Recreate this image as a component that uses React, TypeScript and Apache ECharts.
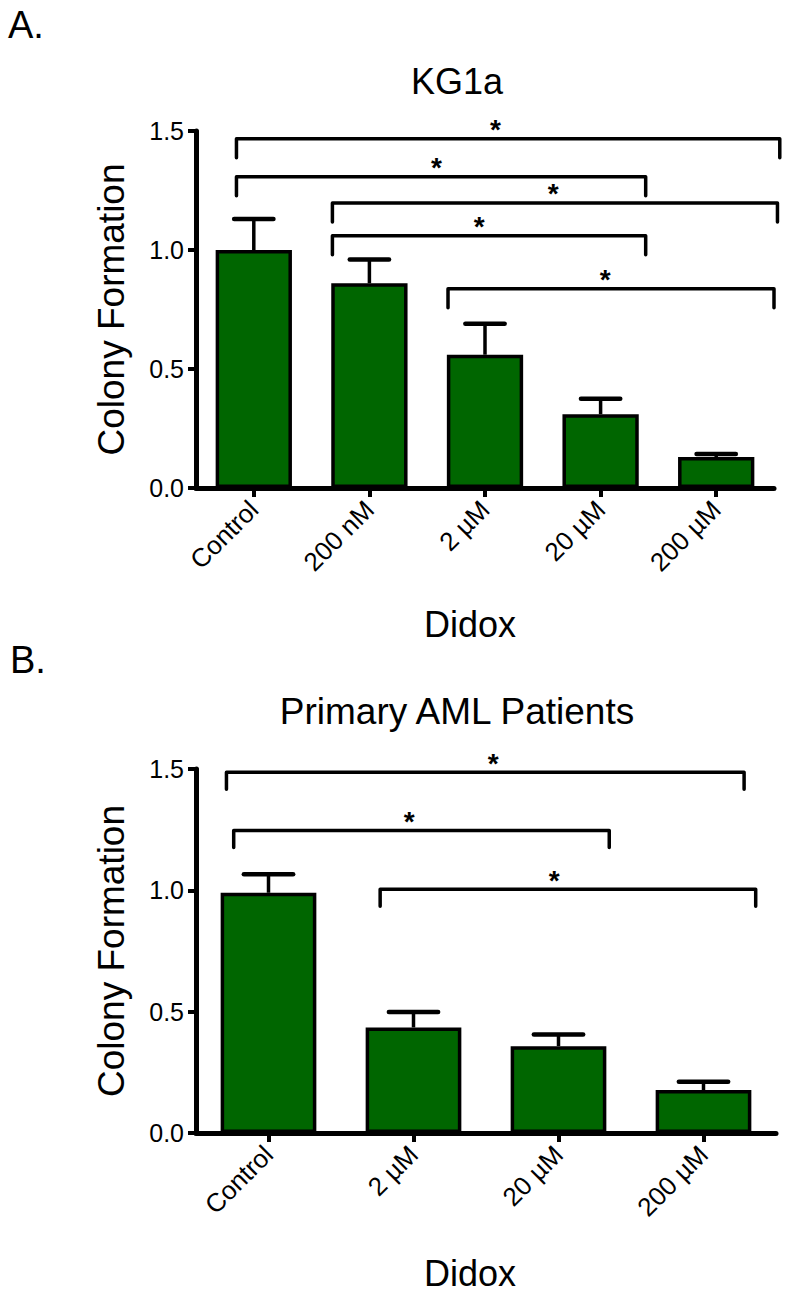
import React, { useEffect, useRef } from 'react';
import * as echarts from 'echarts';

const FONT = '"Liberation Sans", Arial, Helvetica, sans-serif';
const GREEN = '#006600';

const yTicks = [0, 0.5, 1.0, 1.5];

const categoriesA = ['Control', '200 nM', '2 µM', '20 µM', '200 µM'];
const meansA = [1.0, 0.86, 0.56, 0.31, 0.13];
const errTopA = [1.13, 0.96, 0.69, 0.375, 0.143];
// [fromIdx, toIdx, level, leftOffset(band), rightOffset(band), starPos(category units)]
const bracketsA = [
  [0, 4, 1.467, -0.15, 0.55, 2.09],
  [0, 3, 1.308, -0.15, 0.39, 1.58],
  [1, 4, 1.198, -0.32, 0.53, 2.59],
  [1, 3, 1.06, -0.32, 0.39, 1.95],
  [2, 4, 0.837, -0.32, 0.5, 3.04],
];

const categoriesB = ['Control', '2 µM', '20 µM', '200 µM'];
const meansB = [0.99, 0.435, 0.358, 0.177];
const errTopB = [1.066, 0.499, 0.406, 0.211];
const bracketsB = [
  [0, 3, 1.487, -0.29, 0.28, 1.55],
  [0, 2, 1.247, -0.24, 0.35, 0.97],
  [1, 3, 1.004, -0.23, 0.36, 1.97],
];

function errorRender(params: any, api: any) {
  const idx = api.value(0);
  const mean = api.value(1);
  const top = api.value(2);
  const p0 = api.coord([idx, mean]);
  const p1 = api.coord([idx, top]);
  const band = api.size([1, 0])[0];
  const capHalf = band * 0.17;
  return {
    type: 'group',
    children: [
      { type: 'line', shape: { x1: p0[0], y1: p0[1], x2: p1[0], y2: p1[1] }, style: { stroke: '#000', lineWidth: 3.5 } },
      { type: 'line', shape: { x1: p1[0] - capHalf, y1: p1[1], x2: p1[0] + capHalf, y2: p1[1] }, style: { stroke: '#000', lineWidth: 4.5, lineCap: 'round' } },
    ],
  };
}

function bracketRender(drop: number) {
  return (params: any, api: any) => {
    const from = api.value(0);
    const to = api.value(1);
    const lvl = api.value(2);
    const lo = api.value(3);
    const ro = api.value(4);
    const sp = api.value(5);
    const band = api.size([1, 0])[0];
    const pa = api.coord([from, lvl]);
    const pb = api.coord([to, lvl]);
    const origin = api.coord([0, lvl]);
    const x1 = pa[0] + lo * band;
    const x2 = pb[0] + ro * band;
    const sx = origin[0] + sp * band;
    return {
      type: 'group',
      children: [
        {
          type: 'polyline',
          shape: { points: [[x1, pa[1] + drop], [x1, pa[1]], [x2, pa[1]], [x2, pa[1] + drop]] },
          style: { stroke: '#000', lineWidth: 3.5, fill: null, lineJoin: 'round', lineCap: 'round' },
        },
        {
          type: 'text',
          x: sx,
          y: pa[1] - 9,
          style: { text: '*', fontSize: 28, fontWeight: 'bold', fill: '#000', align: 'center', verticalAlign: 'middle', fontFamily: FONT },
        },
      ],
    };
  };
}

function xAxisCfg(gridIndex: number, cats: string[], nameGap: number, shift: number) {
  return {
    type: 'category',
    gridIndex,
    data: cats,
    axisLine: { show: true, lineStyle: { color: '#000', width: 5 } },
    axisTick: { show: true, alignWithLabel: true, length: 9, lineStyle: { color: '#000', width: 4 } },
    axisLabel: { interval: 0, rotate: 45, fontSize: 26, color: '#000', fontFamily: FONT, margin: 17 },
    splitLine: { show: false },
    name: 'Didox',
    nameLocation: 'middle',
    nameGap,
    nameTextStyle: { fontSize: 36, color: '#000', fontFamily: FONT, padding: [0, shift, 0, 0] },
  };
}

function yAxisCfg(gridIndex: number) {
  return {
    type: 'value',
    gridIndex,
    min: yTicks[0],
    max: yTicks[yTicks.length - 1],
    interval: yTicks[1] - yTicks[0],
    axisLine: { show: true, lineStyle: { color: '#000', width: 5 } },
    axisTick: { show: true, length: 8, lineStyle: { color: '#000', width: 4 } },
    axisLabel: { fontSize: 25, color: '#000', fontFamily: FONT, margin: 12, formatter: (v: number) => v.toFixed(1) },
    splitLine: { show: false },
    name: 'Colony Formation',
    nameLocation: 'middle',
    nameGap: 66,
    nameTextStyle: { fontSize: 37, color: '#000', fontFamily: FONT },
  };
}

export default function App() {
  const ref = useRef<HTMLDivElement>(null);
  useEffect(() => {
    if (!ref.current) return;
    const chart = echarts.init(ref.current, null, { renderer: 'svg' });
    const option: any = {
      animation: false,
      backgroundColor: '#fff',
      textStyle: { fontFamily: FONT },
      graphic: [
        { type: 'text', x: 8, y: 25, style: { text: 'A.', fontSize: 38, fill: '#000', fontFamily: FONT, align: 'left', verticalAlign: 'middle' } },
        { type: 'text', x: 10, y: 660, style: { text: 'B.', fontSize: 38, fill: '#000', fontFamily: FONT, align: 'left', verticalAlign: 'middle' } },
        { type: 'text', x: 457, y: 81, style: { text: 'KG1a', fontSize: 36, fill: '#000', fontFamily: FONT, align: 'center', verticalAlign: 'middle' } },
        { type: 'text', x: 457, y: 711, style: { text: 'Primary AML Patients', fontSize: 37, fill: '#000', fontFamily: FONT, align: 'center', verticalAlign: 'middle' } },
      ],
      grid: [
        { left: 196, top: 131, width: 578, height: 357 },
        { left: 196, top: 769, width: 580, height: 364 },
      ],
      xAxis: [xAxisCfg(0, categoriesA, 118, 30), xAxisCfg(1, categoriesB, 122, 32)],
      yAxis: [yAxisCfg(0), yAxisCfg(1)],
      series: [
        {
          type: 'bar', xAxisIndex: 0, yAxisIndex: 0, data: meansA, barWidth: '66%',
          itemStyle: { color: GREEN, borderColor: '#000', borderWidth: 3.5 },
        },
        {
          type: 'custom', xAxisIndex: 0, yAxisIndex: 0, renderItem: errorRender,
          data: meansA.map((m, i) => [i, m, errTopA[i]]), encode: { x: 0, y: [1, 2] }, z: 3,
        },
        {
          type: 'custom', xAxisIndex: 0, yAxisIndex: 0, renderItem: bracketRender(19),
          data: bracketsA, encode: { x: 0, y: 2 }, z: 4, clip: false,
        },
        {
          type: 'bar', xAxisIndex: 1, yAxisIndex: 1, data: meansB, barWidth: '66%',
          itemStyle: { color: GREEN, borderColor: '#000', borderWidth: 3.5 },
        },
        {
          type: 'custom', xAxisIndex: 1, yAxisIndex: 1, renderItem: errorRender,
          data: meansB.map((m, i) => [i, m, errTopB[i]]), encode: { x: 0, y: [1, 2] }, z: 3,
        },
        {
          type: 'custom', xAxisIndex: 1, yAxisIndex: 1, renderItem: bracketRender(17),
          data: bracketsB, encode: { x: 0, y: 2 }, z: 4, clip: false,
        },
      ],
    };
    chart.setOption(option);
    return () => chart.dispose();
  }, []);
  return <div ref={ref} style={{ position: 'absolute', left: 0, top: 0, width: 787, height: 1293, background: '#fff' }} />;
}
